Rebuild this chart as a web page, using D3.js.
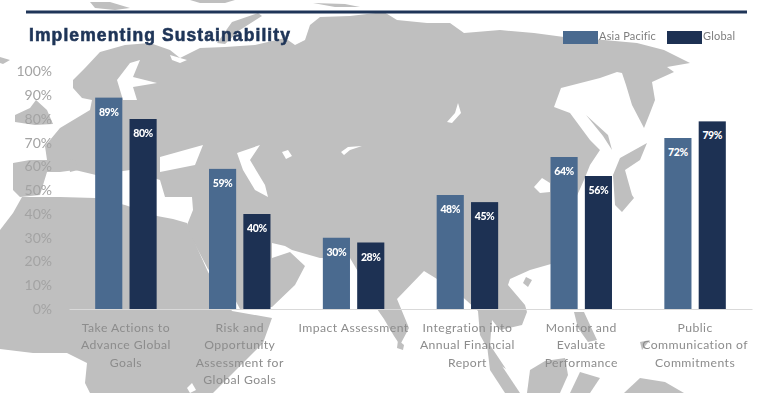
<!DOCTYPE html>
<html>
<head>
<meta charset="utf-8">
<script src="https://cdn.jsdelivr.net/npm/d3@7"></script>
<style>
  html, body { margin: 0; padding: 0; background: #fff; }
  svg { display: block; filter: blur(0.45px); }
  .y-axis text { font-family: Lato, sans-serif; font-size: 14px; fill: #a3a3a3; }
  .x-axis text { font-family: Lato, sans-serif; font-size: 12.2px; fill: #8c8c8c; letter-spacing: 0.45px; }
  .value { font-family: Lato, sans-serif; font-size: 10.5px; font-weight: 900; fill: #fff; text-anchor: middle; letter-spacing: -0.4px; }
  .legend text { font-family: Lato, sans-serif; font-size: 11px; fill: #7d7d7d; letter-spacing: 0.2px; }
</style>
</head>
<body>
<div id="chart"></div>
<script>
const categories = [
  "Take Actions to\nAdvance Global\nGoals",
  "Risk and\nOpportunity\nAssessment for\nGlobal Goals",
  "Impact Assessment",
  "Integration into\nAnnual Financial\nReport",
  "Monitor and\nEvaluate\nPerformance",
  "Public\nCommunication of\nCommitments",
];
const seriesNames = ["Asia Pacific", "Global"];
const asiaPacific = [89, 59, 30, 48, 64, 72];
const globalValues = [80, 40, 28, 45, 56, 79];
const yTicks = [0, 10, 20, 30, 40, 50, 60, 70, 80, 90, 100];
const seriesColors = ["#4a6a8f", "#1d3153"];

// background map, traced by hand in page pixels
const landShapes = [
  // Eurasia
  [[13,163],[30,160],[47,160],[45,146],[60,128],[90,110],[92,100],[82,98],[73,88],[73,80],[85,68],[100,52],[125,45],[150,43],[170,50],[180,58],[200,48],[225,47],[255,45],[285,38],[295,45],[305,40],[310,25],[320,17],[350,16],[384,12],[397,20],[427,23],[450,23],[464,33],[500,30],[534,33],[564,37],[604,40],[637,43],[664,50],[690,63],[667,67],[674,72],[652,82],[655,100],[650,113],[644,128],[632,105],[626,85],[622,73],[617,72],[600,78],[561,88],[554,107],[570,113],[590,140],[600,150],[590,165],[584,180],[575,200],[565,230],[551,264],[530,270],[510,279],[508,285],[525,305],[527,312],[522,325],[500,330],[492,320],[490,345],[506,369],[495,362],[480,335],[478,311],[455,290],[424,271],[397,299],[409,328],[400,345],[394,336],[384,319],[377,309],[360,275],[350,258],[320,258],[292,250],[285,246],[272,243],[272,258],[290,252],[305,266],[295,285],[272,307],[240,309],[230,290],[208,269],[190,235],[187,225],[193,210],[192,197],[165,197],[160,180],[130,170],[96,175],[75,170],[60,172],[47,172],[40,195],[20,197],[13,190]],
  // Africa
  [[0,230],[13,213],[22,197],[60,197],[95,198],[125,205],[157,216],[173,219],[187,223],[190,232],[208,272],[232,311],[272,318],[263,343],[233,373],[213,393],[90,393],[85,383],[87,363],[67,353],[33,353],[0,349]],
  // islands
  [[217,43],[232,22],[258,13],[262,16],[240,30],[225,44]],
  [[15,115],[30,108],[36,100],[47,110],[53,124],[35,125],[15,122]],
  [[0,57],[10,60],[3,64],[0,63]],
  [[90,2],[110,2],[130,8],[115,10],[95,8]],
  [[190,0],[235,0],[225,3],[200,3]],
  [[313,3],[345,4],[360,7],[335,7]],
  [[647,143],[640,160],[625,170],[632,195],[634,198],[622,212],[615,205],[613,175],[620,158]],
  [[586,115],[608,135],[612,150],[603,136]],
  [[526,277],[532,280],[528,287],[523,283]],
  [[398,340],[404,345],[403,350],[397,348]],
  [[487,345],[498,360],[510,378],[520,393],[505,393],[490,370]],
  [[527,393],[530,370],[545,361],[565,358],[568,375],[560,393]],
  [[574,312],[584,312],[590,325],[597,340],[588,342],[578,328]],
  [[640,342],[650,340],[642,350]],
  [[570,393],[580,372],[600,378],[590,393]],
  [[624,393],[640,378],[665,382],[684,393]],
  [[68,162],[75,157],[78,170],[70,172]],
];
const seaShapes = [
  [[117,80],[130,63],[140,60],[133,77],[157,83],[133,87],[137,100],[123,100],[120,90]],
  [[170,55],[187,60],[180,63],[172,60]],
  [[160,157],[185,150],[203,145],[195,165],[170,170],[160,172]],
  [[237,153],[260,145],[250,160],[265,185],[268,197],[255,190],[243,170]],
  [[282,152],[288,150],[292,156],[286,159]],
  [[341,152],[348,147],[362,146],[350,150],[344,155]],
  [[458,103],[461,113],[452,123],[447,122],[455,113]],
  [[534,187],[542,178],[550,183],[550,192],[540,193]],
  [[192,383],[187,388],[190,393],[196,390]],
];

const svg = d3.select("#chart").append("svg").attr("width", 768).attr("height", 393);

const mapLine = d3.line().curve(d3.curveLinearClosed);
svg.append("g").selectAll("path").data(landShapes).join("path").attr("d", mapLine).attr("fill", "#bfbfbf");
svg.append("g").selectAll("path").data(seaShapes).join("path").attr("d", mapLine).attr("fill", "#fff");

const x0 = d3.scaleBand().domain(categories).range([69, 752]).paddingInner(0.46).paddingOuter(0.23);
const x1 = d3.scaleBand().domain(seriesNames).range([0, x0.bandwidth()]).paddingInner(0.21);
const y = d3.scaleLinear().domain([0, 100]).range([309, 71.5]);

svg.append("rect").attr("x", 26).attr("y", 10.5).attr("width", 721).attr("height", 3).attr("fill", "#1f3558");

svg.append("text")
  .attr("x", 29).attr("y", 41)
  .attr("font-family", "Liberation Sans, sans-serif")
  .attr("font-size", 17.5).attr("font-weight", 700)
  .attr("letter-spacing", 1.1)
  .attr("stroke", "#1f3558").attr("stroke-width", 0.6)
  .attr("fill", "#1f3558")
  .text("Implementing Sustainability");

svg.append("g")
  .attr("class", "y-axis")
  .attr("transform", "translate(52,0)")
  .call(d3.axisLeft(y).tickValues(yTicks).tickSize(0).tickPadding(0).tickFormat((d) => `${d}%`))
  .call((g) => g.select(".domain").remove());

const xAxis = svg.append("g")
  .attr("class", "x-axis")
  .attr("transform", "translate(0,309)")
  .call(d3.axisBottom(x0).tickSize(0).tickFormat(""));
xAxis.select(".domain").attr("stroke", "#d9d9d9").attr("stroke-width", 1);

xAxis.selectAll(".tick text").each(function (d) {
  const text = d3.select(this).text(null).attr("y", 23).attr("dy", 0);
  d.split("\n").forEach((line, i) => {
    text.append("tspan").attr("x", 0).attr("dy", i ? 17.4 : 0).text(line);
  });
});

const groups = svg.append("g").selectAll("g").data(categories).join("g")
  .attr("transform", (d) => `translate(${x0(d)},0)`);

[asiaPacific, globalValues].forEach((values, s) => {
  groups.append("rect")
    .attr("x", x1(seriesNames[s]))
    .attr("y", (d, i) => y(values[i]))
    .attr("width", x1.bandwidth())
    .attr("height", (d, i) => y(0) - y(values[i]))
    .attr("fill", seriesColors[s]);
  groups.append("text")
    .attr("class", "value")
    .attr("x", x1(seriesNames[s]) + x1.bandwidth() / 2)
    .attr("y", (d, i) => y(values[i]) + 18)
    .text((d, i) => `${values[i]}%`);
});

const legend = svg.append("g").attr("class", "legend");
const legendX = d3.scaleOrdinal().domain(seriesNames).range([563, 667]);
seriesNames.forEach((name, s) => {
  legend.append("rect").attr("x", legendX(name)).attr("y", 31).attr("width", 35).attr("height", 13).attr("fill", seriesColors[s]);
  legend.append("text").attr("x", legendX(name) + 36).attr("y", 40).text(name);
});
</script>
</body>
</html>
